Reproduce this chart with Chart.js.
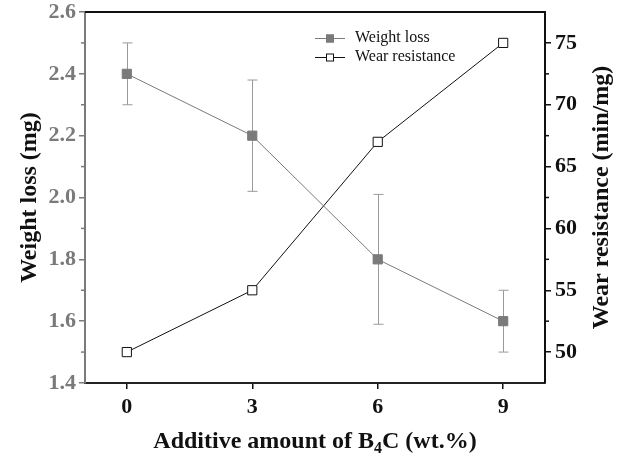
<!DOCTYPE html>
<html>
<head>
<meta charset="utf-8">
<script src="https://cdn.jsdelivr.net/npm/chart.js@4.4.0/dist/chart.umd.min.js"></script>
<style>
  html, body { margin: 0; padding: 0; background: #fff; }
  #wrap { width: 618px; height: 460px; }
</style>
</head>
<body>
<div id="wrap"><canvas id="chart"></canvas></div>
<script>
// data
var amounts = [0, 3, 6, 9];
var weightLoss = [2.4, 2.2, 1.8, 1.6];
var weightErr = [0.1, 0.18, 0.21, 0.1];
var wearResistance = [50, 55, 67, 75];
var xTicks = [0, 3, 6, 9];
var leftTicks = [1.4, 1.6, 1.8, 2.0, 2.2, 2.4, 2.6];
var rightTicks = [50, 55, 60, 65, 70, 75];

var GRAY = '#7a7a7a';
var SERIF = '"Liberation Serif", "Times New Roman", serif';
var TITLE = 24;
var TICK = 22;

function points(ys) {
    return amounts.map(function(x, i) { return { x: x, y: ys[i] }; });
}

// error bars, minor ticks, frame, titles and legend
var extras = {
    id: 'extras',
    beforeDatasetsDraw: function(chart) {
        var ctx = chart.ctx;
        var xs = chart.scales.x, yl = chart.scales.yL;
        ctx.save();
        ctx.strokeStyle = '#9a9a9a';
        ctx.lineWidth = 1;
        for (var i = 0; i < amounts.length; i++) {
            var px = Math.round(xs.getPixelForValue(amounts[i])) + 0.5;
            var top = yl.getPixelForValue(weightLoss[i] + weightErr[i]);
            var bot = yl.getPixelForValue(weightLoss[i] - weightErr[i]);
            ctx.beginPath();
            ctx.moveTo(px, top); ctx.lineTo(px, bot);
            ctx.moveTo(px - 5, top); ctx.lineTo(px + 5, top);
            ctx.moveTo(px - 5, bot); ctx.lineTo(px + 5, bot);
            ctx.stroke();
        }
        ctx.restore();
    },
    afterDraw: function(chart) {
        var ctx = chart.ctx;
        var a = chart.chartArea;
        var yl = chart.scales.yL, yr = chart.scales.yR;
        ctx.save();
        // top frame line
        ctx.strokeStyle = '#111';
        ctx.lineWidth = 2;
        ctx.beginPath();
        ctx.moveTo(a.left, a.top); ctx.lineTo(a.right + 1, a.top);
        ctx.stroke();
        // minor ticks
        ctx.lineWidth = 1.5;
        ctx.strokeStyle = GRAY;
        for (var i = 0; i < leftTicks.length - 1; i++) {
            var y = yl.getPixelForValue((leftTicks[i] + leftTicks[i + 1]) / 2);
            ctx.beginPath(); ctx.moveTo(a.left - 4, y); ctx.lineTo(a.left, y); ctx.stroke();
        }
        ctx.strokeStyle = '#111';
        for (var j = 0; j < rightTicks.length - 1; j++) {
            var y2 = yr.getPixelForValue((rightTicks[j] + rightTicks[j + 1]) / 2);
            ctx.beginPath(); ctx.moveTo(a.right, y2); ctx.lineTo(a.right + 4, y2); ctx.stroke();
        }
        // axis titles
        ctx.fillStyle = '#111';
        ctx.font = 'bold ' + TITLE + 'px ' + SERIF;
        ctx.textAlign = 'center';
        ctx.textBaseline = 'middle';
        ctx.save();
        ctx.translate(30, (a.top + a.bottom) / 2);
        ctx.rotate(-Math.PI / 2);
        ctx.fillText('Weight loss (mg)', 0, 0);
        ctx.restore();
        ctx.save();
        ctx.translate(602, (a.top + a.bottom) / 2);
        ctx.rotate(-Math.PI / 2);
        ctx.fillText('Wear resistance (min/mg)', 0, 0);
        ctx.restore();
        // x title with subscript
        var p1 = 'Additive amount of B', sub = '4', p2 = 'C (wt.%)';
        var subSize = Math.round(TITLE * 0.65);
        ctx.textAlign = 'left';
        ctx.textBaseline = 'alphabetic';
        ctx.font = 'bold ' + TITLE + 'px ' + SERIF;
        var w1 = ctx.measureText(p1).width, w3 = ctx.measureText(p2).width;
        ctx.font = 'bold ' + subSize + 'px ' + SERIF;
        var w2 = ctx.measureText(sub).width;
        var sx = (a.left + a.right) / 2 - (w1 + w2 + w3) / 2;
        var by = 448;
        ctx.font = 'bold ' + TITLE + 'px ' + SERIF;
        ctx.fillText(p1, sx, by);
        ctx.font = 'bold ' + subSize + 'px ' + SERIF;
        ctx.fillText(sub, sx + w1, by + 5);
        ctx.font = 'bold ' + TITLE + 'px ' + SERIF;
        ctx.fillText(p2, sx + w1 + w2, by);
        // legend
        ctx.font = '16px ' + SERIF;
        ctx.textBaseline = 'middle';
        var lx = 315, rows = [
            { y: 38, text: 'Weight loss', line: GRAY, fill: GRAY, stroke: GRAY },
            { y: 57, text: 'Wear resistance', line: '#111', fill: '#fff', stroke: '#111' }
        ];
        rows.forEach(function(r) {
            ctx.strokeStyle = r.line;
            ctx.lineWidth = 1;
            ctx.beginPath(); ctx.moveTo(lx, r.y + 0.5); ctx.lineTo(lx + 30, r.y + 0.5); ctx.stroke();
            ctx.fillStyle = r.fill;
            ctx.fillRect(lx + 11, r.y - 3.5, 8, 8);
            ctx.strokeStyle = r.stroke;
            ctx.strokeRect(lx + 11.5, r.y - 3, 7, 7);
            ctx.fillStyle = '#111';
            ctx.fillText(r.text, lx + 40, r.y);
        });
        ctx.restore();
    }
};

// keep the plot top where the figure has it
function fixY(s, w) {
    s.width = w;
    s.paddingTop = 12;
    s.paddingBottom = 0;
}

var ctx = document.getElementById('chart').getContext('2d');
var chart = new Chart(ctx, {
    type: 'line',
    data: {
        datasets: [{
            label: 'Weight loss',
            data: points(weightLoss),
            yAxisID: 'yL',
            borderColor: GRAY,
            borderWidth: 1,
            backgroundColor: GRAY,
            pointStyle: 'rect',
            pointRadius: 6.5,
            pointBorderColor: GRAY,
            pointBackgroundColor: GRAY,
            pointBorderWidth: 1
        }, {
            label: 'Wear resistance',
            data: points(wearResistance),
            yAxisID: 'yR',
            borderColor: '#111',
            borderWidth: 1,
            pointStyle: 'rect',
            pointRadius: 6.5,
            pointBorderColor: '#111',
            pointBackgroundColor: '#fff',
            pointBorderWidth: 1
        }]
    },
    options: {
        responsive: true,
        maintainAspectRatio: false,
        animation: false,
        layout: { padding: 0 },
        plugins: { legend: { display: false }, tooltip: { enabled: false } },
        scales: {
            x: {
                type: 'linear',
                min: -1,
                max: 10,
                afterBuildTicks: function(s) { s.ticks = xTicks.map(function(v) { return { value: v }; }); },
                afterFit: function(s) { s.height = 77; },
                grid: { drawOnChartArea: false, tickLength: 6, color: '#111', lineWidth: 1.5 },
                border: { color: '#222', width: 2 },
                ticks: {
                    color: '#111',
                    padding: 5,
                    font: { family: SERIF, size: TICK, weight: 'bold' },
                    callback: function(v) { return String(v); }
                }
            },
            yL: {
                position: 'left',
                min: 1.4,
                max: 2.6,
                afterBuildTicks: function(s) { s.ticks = leftTicks.map(function(v) { return { value: v }; }); },
                afterFit: function(s) { fixY(s, 85); },
                grid: { drawOnChartArea: false, tickLength: 6, color: GRAY, lineWidth: 1.5 },
                border: { color: GRAY, width: 2 },
                ticks: {
                    color: GRAY,
                    padding: 3,
                    font: { family: SERIF, size: TICK, weight: 'bold' },
                    callback: function(v) { return v.toFixed(1); }
                }
            },
            yR: {
                position: 'right',
                min: 47.5,
                max: 77.5,
                afterBuildTicks: function(s) { s.ticks = rightTicks.map(function(v) { return { value: v }; }); },
                afterFit: function(s) { fixY(s, 73); },
                grid: { drawOnChartArea: false, tickLength: 6, color: '#111', lineWidth: 1.5 },
                border: { color: '#111', width: 2 },
                ticks: {
                    color: '#111',
                    padding: 4,
                    font: { family: SERIF, size: TICK, weight: 'bold' },
                    callback: function(v) { return String(v); }
                }
            }
        }
    },
    plugins: [extras]
});
</script>
</body>
</html>
